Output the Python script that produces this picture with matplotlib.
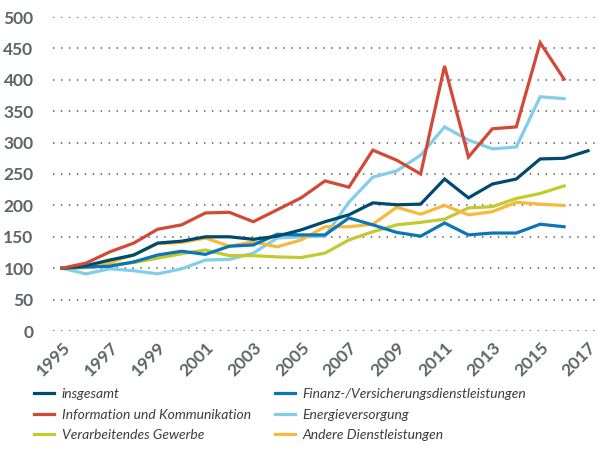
import matplotlib
matplotlib.use("Agg")
import matplotlib.pyplot as plt
import matplotlib.transforms as mtransforms
from matplotlib.lines import Line2D

years = list(range(1995, 2018))
insgesamt = [100, 104, 113, 121, 140, 143, 150, 150, 146, 151, 161, 174, 185, 204, 201, 202, 242, 212, 234, 242, 274, 275, 287]
info_komm = [100, 108, 126, 140, 162, 169, 188, 189, 174, 193, 212, 239, 229, 288, 272, 250, 422, 277, 322, 325, 459, 401]
verarb = [100, 101, 105, 109, 116, 123, 129, 120, 120, 118, 117, 124, 145, 158, 169, 173, 178, 196, 198, 211, 219, 231]
finanz = [100, 102, 103, 110, 121, 127, 122, 135, 137, 154, 153, 153, 180, 169, 157, 151, 172, 153, 156, 156, 170, 166]
energie = [100, 91, 99, 96, 91, 99, 113, 114, 124, 148, 150, 151, 205, 245, 255, 280, 325, 304, 290, 293, 373, 370]
andere = [100, 101, 109, 121, 139, 141, 148, 135, 142, 134, 145, 166, 166, 170, 197, 186, 200, 185, 190, 205, 202, 200]

labels = ["insgesamt", "Information und Kommunikation", "Verarbeitendes Gewerbe",
          "Finanz-/Versicherungsdienstleistungen", "Energieversorgung", "Andere Dienstleistungen"]
series = [insgesamt, info_komm, verarb, finanz, energie, andere]
colors = ["#004a6e", "#d14a37", "#c2ca2c", "#0a76b5", "#82cdec", "#f8b83a"]
draw_order = [4, 2, 5, 3, 0, 1]

fig = plt.figure(figsize=(5.98, 4.49), dpi=100)
ax = fig.add_axes([53/598, 118/449, 542/598, 314/449])

for i in draw_order:
    s = series[i]
    ax.plot(years[:len(s)], s, color=colors[i], lw=2.3, solid_joinstyle="miter", zorder=3)

ax.set_xlim(1995 - 9/23.9, 2017 + 7/23.9)
ax.set_ylim(0, 500)
yt = list(range(0, 501, 50))
ax.set_yticks(yt)
ax.set_yticklabels([str(v) for v in yt], fontfamily="Lato", fontweight="bold", fontsize=12.5, color="#5b6569")
xt = list(range(1995, 2018, 2))
ax.set_xticks(xt)
ax.set_xticklabels([str(v) for v in xt], fontfamily="Lato", fontweight="bold", fontsize=12.5,
                   color="#5b6569", rotation=45, ha="right", rotation_mode="anchor")
offset = mtransforms.ScaledTranslation(5/100, 0, fig.dpi_scale_trans)
for lab in ax.get_xticklabels():
    lab.set_transform(lab.get_transform() + offset)
ax.tick_params(axis="both", length=0)
ax.tick_params(axis="y", pad=14)
ax.tick_params(axis="x", pad=6)
for sp in ax.spines.values():
    sp.set_visible(False)
ax.grid(axis="y", color="#6f6f6f", linestyle=(0, (0.8, 3.6)), linewidth=1.3, zorder=0)
ax.set_axisbelow(True)

handles = [Line2D([0], [0], color=c, lw=2.3) for c in colors]
fig.legend(handles, labels, loc="upper left", bbox_to_anchor=(34/598, 1 - 388/449), ncol=2,
           frameon=False, prop={"family": "Lato", "style": "italic", "size": 10},
           handlelength=1.45, handletextpad=0.55, columnspacing=1.7, labelspacing=0.62,
           borderpad=0, borderaxespad=0, labelcolor="#3c3c3c")

fig.savefig("out.png", dpi=100)
